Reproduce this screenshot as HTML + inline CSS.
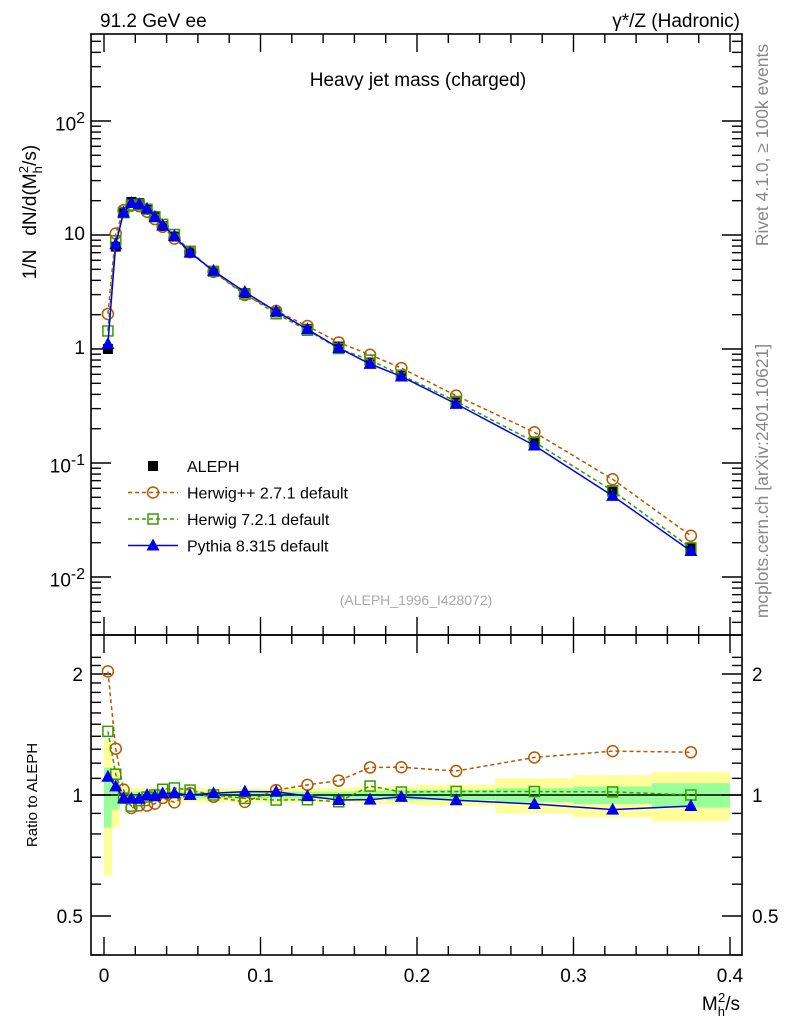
<!DOCTYPE html>
<html><head><meta charset="utf-8"><style>
body{margin:0;background:#fff}
svg{display:block;font-family:"Liberation Sans",sans-serif}
</style></head><body>
<svg id="c" width="786" height="1024" viewBox="0 0 786 1024">
<text x="100" y="27" font-size="19">91.2 GeV ee</text>
<text x="740" y="27" font-size="19" text-anchor="end">γ*/Z (Hadronic)</text>
<text x="418" y="86" font-size="19" text-anchor="middle">Heavy jet mass (charged)</text>
<text transform="translate(36,212) rotate(-90)" font-size="19" text-anchor="middle">1/N<tspan dx="14">dN/d(M</tspan><tspan font-size="13" dy="6">h</tspan><tspan font-size="13" dy="-14" dx="-7">2</tspan><tspan dy="8">/s)</tspan></text>
<text transform="translate(768,145) rotate(-90)" font-size="17.5" fill="#888" text-anchor="middle">Rivet 4.1.0, ≥ 100k events</text>
<text transform="translate(768,481) rotate(-90)" font-size="17.5" fill="#888" text-anchor="middle">mcplots.cern.ch [arXiv:2401.10621]</text>
<text x="416" y="605" font-size="14" fill="#aaa" text-anchor="middle">(ALEPH_1996_I428072)</text>
<text transform="translate(37,795) rotate(-90)" font-size="15" text-anchor="middle">Ratio to ALEPH</text>
<text x="740" y="1010" font-size="19" text-anchor="end">M<tspan font-size="13" dy="6">h</tspan><tspan font-size="13" dy="-14" dx="-7">2</tspan><tspan dy="8">/s</tspan></text>
<g id="g"></g>
</svg>
<script>
const binEdges=[0,0.005,0.01,0.015,0.02,0.025,0.03,0.035,0.04,0.05,0.06,0.08,0.10,0.12,0.14,0.16,0.18,0.20,0.25,0.30,0.35,0.40];
const aleph=[1.0,7.9,16,19.5,19,17,14.5,12,9.7,7.0,4.8,3.1,2.1,1.5,1.05,0.76,0.58,0.34,0.15,0.056,0.018];
const statErr=[0.17,0.08,0.02,0.02,0.02,0.02,0.02,0.02,0.02,0.02,0.02,0.02,0.02,0.02,0.02,0.025,0.03,0.03,0.04,0.05,0.07];
const totErr=[0.37,0.17,0.05,0.04,0.04,0.04,0.04,0.04,0.04,0.04,0.04,0.04,0.04,0.04,0.04,0.05,0.05,0.06,0.1,0.12,0.14];
const herwigpp=[2.03,10.3,16.5,18.1,17.9,16.0,13.8,11.8,9.3,7.07,4.75,2.98,2.16,1.59,1.14,0.89,0.68,0.39,0.186,0.072,0.023];
const herwig7=[1.44,8.9,15.7,18.3,18.4,16.8,14.5,12.4,10.1,7.2,4.8,3.04,2.04,1.46,1.01,0.80,0.59,0.347,0.153,0.057,0.018];
const pythia=[1.11,8.3,15.7,19.1,18.6,17.0,14.4,12.1,9.8,7.0,4.85,3.16,2.14,1.49,1.02,0.74,0.574,0.33,0.1425,0.0515,0.0169];
const xTicks=[0,0.1,0.2,0.3,0.4];
const xTickLabels=["0","0.1","0.2","0.3","0.4"];
const yDecades=[-2,-1,0,1,2];
const yDecadeLabels=["10<sup>-2</sup>","10<sup>-1</sup>","1","10","10<sup>2</sup>"];
const rTicks=[0.5,1,2];
const rTickLabels=["0.5","1","2"];

const NS="http://www.w3.org/2000/svg";
const g=document.getElementById('g');
const L=91,R=742,T=34,MB=635,RB=955;
const X=v=>104+v*1565;
const Y=v=>121+(2-Math.log10(v))*114;
const RY=v=>795-Math.log2(v)*121;
function el(tag,at,par){const e=document.createElementNS(NS,tag);for(const k in at)e.setAttribute(k,at[k]);(par||g).appendChild(e);return e;}
const centers=binEdges.slice(0,-1).map((e,i)=>(e+binEdges[i+1])/2);

const clipR=el('clipPath',{id:'cr'});el('rect',{x:L,y:MB,width:R-L,height:RB-MB},clipR);
const bands=el('g',{'clip-path':'url(#cr)'});
for(let i=0;i<aleph.length;i++){
 let b=el('rect',{x:X(binEdges[i]),y:RY(1+totErr[i]),width:X(binEdges[i+1])-X(binEdges[i]),height:RY(1-totErr[i])-RY(1+totErr[i]),fill:'#ffff99'},bands);
 
 
 let s=el('rect',{x:X(binEdges[i]),y:RY(1+statErr[i]),width:X(binEdges[i+1])-X(binEdges[i]),height:RY(1-statErr[i])-RY(1+statErr[i]),fill:'#99ff99'},bands);
 
 
}
el('line',{x1:L,x2:R,y1:RY(1),y2:RY(1),stroke:'#000','stroke-width':1.5});

el('rect',{x:L,y:T,width:R-L,height:MB-T,fill:'none',stroke:'#000','stroke-width':1.6});
el('rect',{x:L,y:MB,width:R-L,height:RB-MB,fill:'none',stroke:'#000','stroke-width':1.6});

function fo(x,y,w,html,anchor,size){const f=el('foreignObject',{x:anchor==='end'?x-w:x,y:y,width:w,height:30});const d=document.createElement('div');d.style.cssText=`font:${size}px "Liberation Sans",sans-serif;text-align:${anchor==='end'?'right':'left'};line-height:1`;d.innerHTML=html;f.appendChild(d);return f;}
for(let v=0;v<=0.4001;v+=0.02){const big=Math.abs(v*10-Math.round(v*10))<1e-6;const h=big?18:9;
 [[MB,-1],[RB,-1],[T,1],[MB,1]].forEach(([y,d])=>el('line',{x1:X(v),x2:X(v),y1:y,y2:y+d*h,stroke:'#000','stroke-width':1.4}));}
xTicks.forEach((v,i)=>{const t=el('text',{x:X(v),y:RB+27,'font-size':19,'text-anchor':'middle'});t.textContent=xTickLabels[i];
 
 });
for(let d=-3;d<=2;d++){for(let m=1;m<10;m++){const v=m*Math.pow(10,d);const y=Y(v);if(y<T||y>MB)continue;const h=m===1?20:10;
 el('line',{x1:L,x2:L+h,y1:y,y2:y,stroke:'#000','stroke-width':1.4});el('line',{x1:R,x2:R-h,y1:y,y2:y,stroke:'#000','stroke-width':1.4});}}
yDecades.forEach((d,i)=>{const f=fo(L-6,Y(Math.pow(10,d))-10,70,yDecadeLabels[i],'end',19);
 
 });
for(let v=0.4;v<=2.3;v+=0.1){const y=RY(v);if(y<MB||y>RB)continue;const big=[0.5,1,2].some(q=>Math.abs(q-v)<1e-6);const h=big?20:10;
 el('line',{x1:L,x2:L+h,y1:y,y2:y,stroke:'#000','stroke-width':1.4});el('line',{x1:R,x2:R-h,y1:y,y2:y,stroke:'#000','stroke-width':1.4});}
rTicks.forEach((v,i)=>{[[L-8,'end'],[R+10,'start']].forEach(([x,a])=>{const t=el('text',{x:x,y:RY(v)+7,'font-size':19,'text-anchor':a});t.textContent=rTickLabels[i];
 
 });});

function marker(type,x,y,col,par){
 if(type==='sq')return el('rect',{x:x-5,y:y-5,width:10,height:10,fill:'#000'},par);
 if(type==='circ')return el('circle',{cx:x,cy:y,r:5.5,fill:'none',stroke:col,'stroke-width':1.5},par);
 if(type==='osq')return el('rect',{x:x-5,y:y-5,width:10,height:10,fill:'none',stroke:col,'stroke-width':1.5},par);
 return el('polygon',{points:`${x},${y-7} ${x-6.5},${y+5} ${x+6.5},${y+5}`,fill:col},par);
}
const series=[
 {name:'herwigpp',vals:herwigpp,col:'#b35900',type:'circ',dash:'4,3'},
 {name:'herwig7',vals:herwig7,col:'#3a9a00',type:'osq',dash:'4,3'},
 {name:'pythia',vals:pythia,col:'#0000ee',type:'tri',dash:null}];
aleph.forEach((v,i)=>{const m=marker('sq',X(centers[i]),Y(v),'#000');
 
 });
series.forEach(s=>{
 const pts=s.vals.map((v,i)=>X(centers[i])+','+Y(v)).join(' ');
 const l=el('polyline',{points:pts,fill:'none',stroke:s.col,'stroke-width':1.5});if(s.dash)l.setAttribute('stroke-dasharray',s.dash);
 
 
 s.vals.forEach((v,i)=>{const m=marker(s.type,X(centers[i]),Y(v),s.col);
  
  });
 const rp=s.vals.map((v,i)=>X(centers[i])+','+RY(v/aleph[i])).join(' ');
 const rl=el('polyline',{points:rp,fill:'none',stroke:s.col,'stroke-width':1.5});if(s.dash)rl.setAttribute('stroke-dasharray',s.dash);
 
 
 s.vals.forEach((v,i)=>{const m=marker(s.type,X(centers[i]),RY(v/aleph[i]),s.col);
  
  });
});
const leg=[['sq','#000','ALEPH',null],['circ','#b35900','Herwig++ 2.7.1 default','4,3'],['osq','#3a9a00','Herwig 7.2.1 default','4,3'],['tri','#0000ee','Pythia 8.315 default',null]];
leg.forEach((e,i)=>{const y=466+i*26.5;const lg=el('g',{});
 
 
 if(i>0){const ln=el('line',{x1:128,x2:178,y1:y,y2:y,stroke:e[1],'stroke-width':1.5},lg);if(e[3])ln.setAttribute('stroke-dasharray',e[3]);}
 marker(e[0],153,y,e[1],lg);
 const t=el('text',{x:187,y:y+6,'font-size':16},lg);t.textContent=e[2];});
</script>
</body></html>
